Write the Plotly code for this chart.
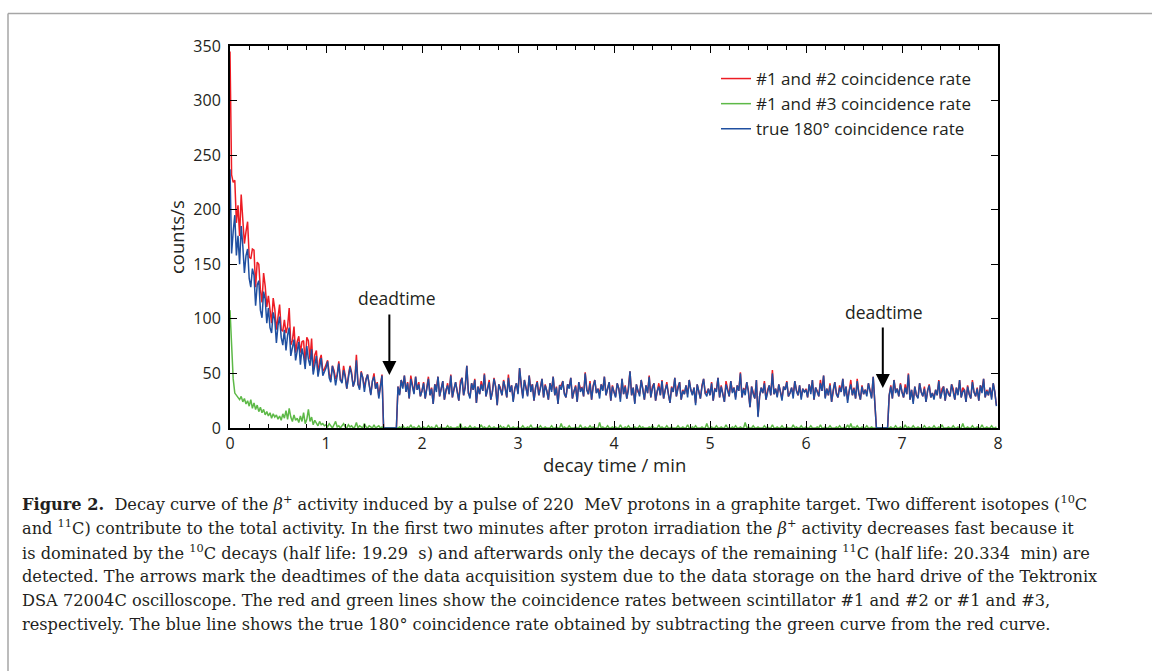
import plotly.graph_objects as go

# ---------------- data (1 s bins) ----------------
seconds = list(range(480))

blue = [
    237,160,180,195,158,176,150,185,167,142, 158,164,137,129,146,140,112,131,135,108,
    101,125,118,96,110,92,87,106,99,78, 94,102,83,76,90,71,85,92,66,74,
    81,62,70,79,58,73,66,54,75,63, 57,72,49,60,66,47,56,64,48,52,
    55,61,46,42,57,50,39,48,59,44, 41,53,47,36,45,56,49,38,43,62,
    40,35,51,46,33,44,49,37,30,43, 47,36,41,27,38,48,0,0,0,0,
    0,0,0,0,0,38,30,44,36,48, 33,41,27,45,38,31,47,35,40,29,
    34,41,27,38,45,30,36,22,40,33,47,29,37,43,26,35,39,31,48,28,
    36,42,33,25,39,46,30,37,57,32,27,41,35,44,23,38,31,40,34,49,
    29,36,42,26,33,45,38,21,40,35,30,43,37,28,46,33,39,24,36,41,
    31,55,38,27,44,35,29,48,33,40,25,37,42,30,36,45,28,39,34,26,
    41,33,47,30,37,22,39,35,43,31,28,40,36,46,27,34,38,24,42,33,
    37,29,50,35,31,41,26,38,44,32,36,27,40,34,47,30,35,42,25,38,
    33,28,41,36,24,45,31,38,27,35,52,30,37,22,40,33,29,44,35,26,
    39,32,47,28,36,41,25,34,38,30,43,27,35,40,31,23,37,33,46,29,
    36,42,26,34,31,39,28,44,35,30,37,21,40,33,27,38,45,32,29,36,
    30,41,25,36,33,46,28,38,31,24,40,35,29,43,32,37,26,39,34,50,
    28,36,30,42,33,19,38,31,27,44,10,29,37,32,41,26,34,39,30,50,
    31,36,28,40,33,25,38,35,42,29,32,37,27,43,34,30,39,26,36,33,
    35,28,40,31,44,26,37,33,29,41,34,48,27,36,30,39,24,35,42,31,
    28,37,33,45,29,38,23,34,40,30,36,27,43,32,26,38,31,35,29,41,
    33,27,47,25,0,0,0,0,0,0,0,0,30,38,27,44,32,36,29,40,
    33,28,37,31,49,26,35,22,38,30,27,41,33,29,36,24,34,39,28,32,
    26,35,30,43,27,33,38,25,36,31,29,40,34,26,37,30,44,28,33,35,
    24,38,31,27,42,33,29,36,25,39,32,45,28,34,30,37,26,41,33,20,
]

green = [
    108,72,45,32,30,28,26,29,24,27, 22,25,20,26,18,23,17,21,15,19,
    14,17,12,15,11,14,9,13,10,12, 8,11,7,13,9,16,8,18,10,6,
    12,7,9,5,11,6,14,4,8,17, 6,10,3,7,5,2,6,3,4,2,
    3,1,4,2,0,3,6,1,2,0, 2,4,1,0,3,1,2,0,1,5,
    0,2,1,0,4,1,0,2,1,0, 3,0,1,2,0,1,0,0,0,0,
    0,0,0,0,0,0,1,0,2,0, 0,1,0,3,0,1,0,0,2,0,
    0,1,0,0,2,0,1,0,0,3,0,0,1,0,0,0,2,0,1,0,
    0,0,1,0,4,0,0,1,0,0,2,0,0,1,0,0,0,3,0,1,
    0,0,2,0,0,1,0,0,0,2,0,1,0,0,3,0,0,1,0,0,
    1,0,0,2,0,0,1,0,3,0,0,0,1,0,2,0,0,1,0,0,
    0,2,0,0,1,0,0,4,0,1,0,0,2,0,0,0,1,0,0,3,
    0,0,1,0,0,2,0,1,0,0,0,5,0,1,0,0,2,0,0,1,
    0,1,0,0,3,0,0,1,0,2,0,0,0,1,0,0,2,0,1,0,
    0,0,1,0,2,0,0,0,3,0,1,0,0,2,0,0,1,0,0,0,
    2,0,0,1,0,0,3,0,0,1,0,2,0,0,0,1,0,0,4,0,
    0,1,0,0,2,0,0,1,0,0,3,0,0,0,1,0,2,0,0,1,
    0,0,5,0,1,0,0,2,0,0,1,0,0,0,2,0,1,0,0,3,
    0,0,1,0,0,2,0,0,1,0,0,0,3,0,1,0,0,2,0,0,
    1,0,0,2,0,0,0,1,0,3,0,0,1,0,0,2,0,0,0,1,
    0,2,0,0,1,0,3,0,4,0,1,0,2,0,0,1,0,0,2,0,
    0,1,0,0,0,0,0,0,0,0,0,0,0,1,0,0,2,0,0,1,
    0,0,3,0,1,0,0,2,0,0,1,0,0,0,2,0,0,1,0,0,
    2,0,0,1,0,3,0,0,0,1,0,0,2,0,0,1,0,0,4,0,
    0,1,0,0,2,0,0,1,0,0,3,0,0,1,0,0,2,0,0,1,
]

red = [
    345,232,225,227,188,204,176,214,191,169, 180,189,157,155,164,163,129,152,150,127,
    115,142,130,111,121,106,96,119,109,90, 102,113,90,89,99,87,93,110,76,80,
    93,69,79,84,69,79,80,58,83,80, 63,82,52,67,71,49,62,67,52,54,
    58,62,50,44,57,53,45,49,61,44, 43,57,48,36,48,57,51,38,44,67,
    40,37,52,46,37,45,49,39,31,43, 50,36,42,29,38,49,0,0,0,0,
    0,0,0,0,0,38,31,44,38,48, 33,42,27,48,38,32,47,35,42,29,
    34,42,27,38,47,30,37,22,40,36,47,29,38,43,26,35,41,31,49,28,
    36,42,34,25,43,46,30,38,57,32,29,41,35,45,23,38,31,43,34,50,
    29,36,44,26,33,46,38,21,40,37,30,44,37,28,49,33,39,25,36,41,
    32,55,38,29,44,35,30,48,36,40,25,37,43,30,38,45,28,40,34,26,
    41,35,47,30,38,22,39,39,43,32,28,40,38,46,27,34,39,24,42,36,
    37,29,51,35,31,43,26,39,44,32,36,32,40,35,47,30,37,42,25,39,
    33,29,41,36,27,45,31,39,27,37,52,30,37,23,40,33,31,44,36,26,
    39,32,48,28,38,41,25,34,41,30,44,27,35,42,31,23,38,33,46,29,
    38,42,26,35,31,39,31,44,35,31,37,23,40,33,27,39,45,32,33,36,
    30,42,25,36,35,46,28,39,31,24,43,35,29,43,33,37,28,39,34,51,
    28,36,35,42,34,19,38,33,27,44,11,29,37,32,43,26,35,39,30,53,
    31,36,29,40,33,27,38,35,43,29,32,37,30,43,35,30,39,28,36,33,
    36,28,40,33,44,26,37,34,29,44,34,48,28,36,30,41,24,35,42,32,
    28,39,33,45,30,38,26,34,44,30,37,27,45,32,26,39,31,35,31,41,
    33,28,47,25,0,0,0,0,0,0,0,0,30,39,27,44,34,36,29,41,
    33,28,40,31,50,26,35,24,38,30,28,41,33,29,38,24,34,40,28,32,
    28,35,30,44,27,36,38,25,36,32,29,40,36,26,37,31,44,28,37,35,
    24,39,31,27,44,33,29,37,25,39,35,45,28,35,30,37,28,41,33,21,
]

time_min = [s / 60 for s in seconds]

series_names = ["#1 and #2 coincidence rate", "#1 and #3 coincidence rate",
                "true 180° coincidence rate"]
deadtime_x = [1.66, 6.80]
deadtime_y = [48.5, 36.6]

# ---------------- layout helpers ----------------
W, H = 1152, 671
L, R, T, B = 230, 998, 46, 428


def px(x):
    return (x - L) / (R - L)


def py(y):
    return (B - y) / (B - T)


SANS = "Open Sans"
SERIF = "DejaVu Serif"
TXT = "#231f20"

fig = go.Figure()
colors = ["#ED1C24", "#5DB947", "#1F4FA0"]
for name, ys, c in zip(series_names, [red, green, blue], colors):
    fig.add_trace(go.Scatter(x=time_min, y=ys, mode="lines", name=name,
                             legendgroup=name,
                             line=dict(color=c, width=1.5)))

axis_common = dict(showline=True, linecolor="black", linewidth=2, mirror="allticks",
                   ticks="inside", ticklen=7, tickwidth=1, tickcolor="black",
                   showgrid=False, zeroline=False,
                   tickfont=dict(family=SANS, size=16, color=TXT))

fig.update_xaxes(range=[0, 8], tickmode="linear", tick0=0, dtick=1,
                 minor=dict(ticks="inside", ticklen=4, dtick=0.2, tickcolor="black",
                            showgrid=False),
                 ticklabelstandoff=0,
                 **axis_common)
fig.update_yaxes(range=[0, 350], tickmode="linear", tick0=0, dtick=50,
                 ticklabelstandoff=4,
                 **axis_common)

annotations = []
# axis titles
annotations.append(dict(x=0.5, y=py(464), xref="paper", yref="paper", text="decay time / min",
                        showarrow=False, xanchor="center", yanchor="middle",
                        font=dict(family=SANS, size=18.5, color=TXT)))
annotations.append(dict(x=px(176), y=py(237), xref="paper", yref="paper", text="counts/s",
                        showarrow=False, xanchor="center", yanchor="middle", textangle=-90,
                        font=dict(family=SANS, size=18.5, color=TXT)))
# deadtime arrows and labels
for xv, yv, lab_x, lab_y in zip(deadtime_x, deadtime_y, [1.735, 6.81], [119, 106.5]):
    annotations.append(dict(x=xv, y=yv, xref="x", yref="y", ax=0, ay=-62,
                            text="", showarrow=True, arrowhead=2, arrowsize=1.4,
                            arrowwidth=2, arrowcolor="black"))
    annotations.append(dict(x=lab_x, y=lab_y, xref="x", yref="y", text="deadtime",
                            showarrow=False, font=dict(family=SANS, size=17.5, color=TXT)))

# caption
NB = "\u00a0"
caption_lines = [
    "<b>Figure" + NB + "2.</b>" + NB + NB + "Decay curve of the <i>β</i><sup>+</sup> activity induced by a pulse of 220" + NB + NB + "MeV protons in a graphite target. Two different isotopes (<sup>10</sup>C",
    "and <sup>11</sup>C) contribute to the total activity. In the first two minutes after proton irradiation the <i>β</i><sup>+</sup> activity decreases fast because it",
    "is dominated by the <sup>10</sup>C decays (half life: 19.29" + NB + NB + "s) and afterwards only the decays of the remaining <sup>11</sup>C (half life: 20.334" + NB + NB + "min) are",
    "detected. The arrows mark the deadtimes of the data acquisition system due to the data storage on the hard drive of the Tektronix",
    "DSA 72004C oscilloscope. The red and green lines show the coincidence rates between scintillator #1 and #2 or #1 and #3,",
    "respectively. The blue line shows the true 180° coincidence rate obtained by subtracting the green curve from the red curve.",
]
caption_y = [503, 527, 552, 576, 600, 624]
for line, yy in zip(caption_lines, caption_y):
    annotations.append(dict(x=px(20), y=py(yy), xref="paper", yref="paper",
                            xanchor="left", yanchor="middle", text=line, showarrow=False,
                            font=dict(family=SERIF, size=16.2, color=TXT), align="left"))

shapes = [
    dict(type="line", xref="paper", yref="paper", x0=px(8), x1=px(W), y0=py(13.5), y1=py(13.5),
         line=dict(color="#a6a6a6", width=1.5)),
    dict(type="line", xref="paper", yref="paper", x0=px(8), x1=px(8), y0=py(13.5), y1=py(H),
         line=dict(color="#a6a6a6", width=1.5)),
]

fig.update_layout(
    width=W, height=H,
    margin=dict(l=L, r=W - R, t=T, b=H - B, autoexpand=False),
    paper_bgcolor="white", plot_bgcolor="white",
    showlegend=True,
    legend=dict(x=px(716), y=py(61), xanchor="left", yanchor="top",
                bgcolor="rgba(0,0,0,0)", borderwidth=0,
                font=dict(family=SANS, size=17, color=TXT),
                tracegroupgap=0, itemwidth=30),
    annotations=annotations,
    shapes=shapes,
)

fig.write_html("out.html")
